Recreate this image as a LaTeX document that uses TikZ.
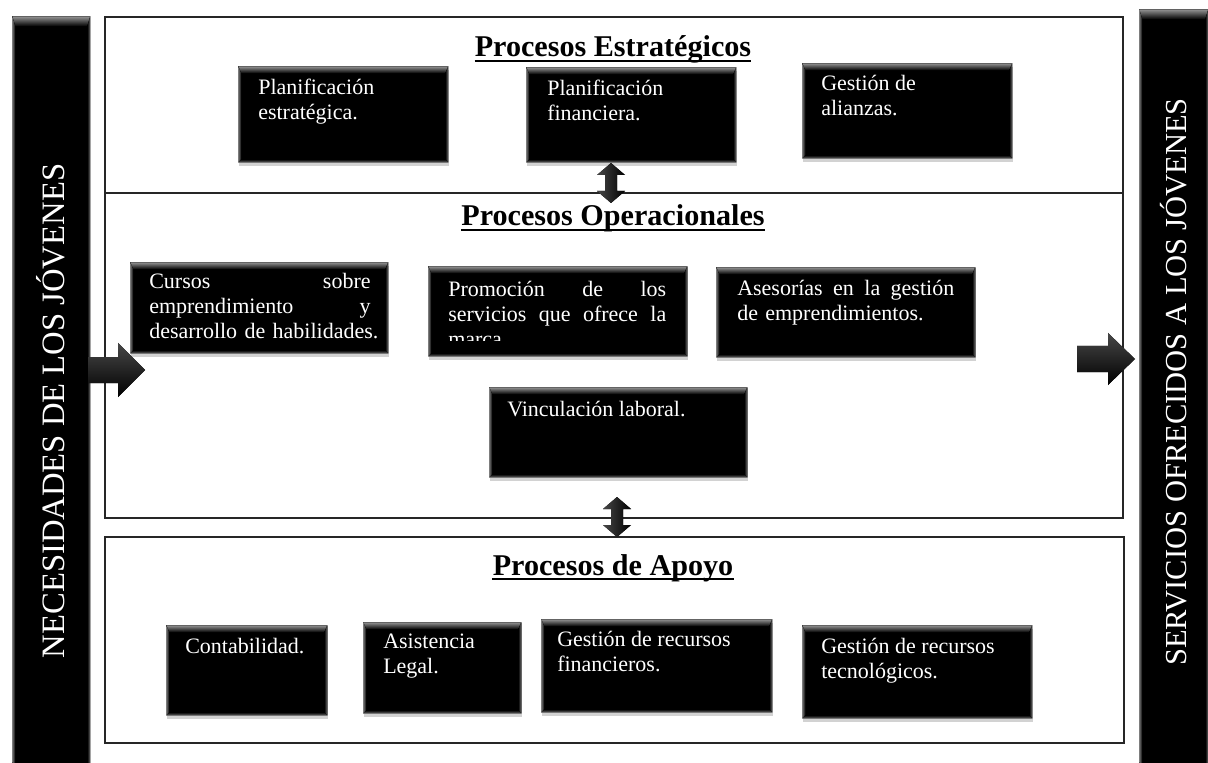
\documentclass[tikz,border=0pt]{standalone}
\usepackage{fontspec}
\setmainfont{Liberation Serif}
\usetikzlibrary{calc,shadows}

% bevelled edges of a black panel: #1 top depth, #2 side depth, #3 bottom depth (px)
\newcommand\bevelpaint[3]{%
  \path (path picture bounding box.north west) coordinate (bvA)
        (path picture bounding box.north east) coordinate (bvB)
        (path picture bounding box.south east) coordinate (bvC)
        (path picture bounding box.south west) coordinate (bvD);
  \path ([shift={(#2,#1)}]bvA) coordinate (bva)
        ([shift={(-#2,#1)}]bvB) coordinate (bvb)
        ([shift={(-#2,-#3)}]bvC) coordinate (bvc)
        ([shift={(#2,-#3)}]bvD) coordinate (bvd);
  \fill[top color=black!42, bottom color=black] (bvA) -- (bvB) -- (bvb) -- (bva) -- cycle;
  \fill[left color=black!55, right color=black] (bvA) -- (bva) -- (bvd) -- (bvD) -- cycle;
  \fill[left color=black, right color=black!55] (bvB) -- (bvb) -- (bvc) -- (bvC) -- cycle;
  \fill[top color=black, bottom color=black!60] (bvD) -- (bvd) -- (bvc) -- (bvC) -- cycle;
}

\tikzset{
  wh/.style 2 args={minimum width=#1*0.75pt, minimum height=#2*0.75pt},
  pbox/.style={rectangle, fill=black, inner sep=0pt, anchor=north west,
    drop shadow={shadow xshift=0.6pt, shadow yshift=-3pt, opacity=0.35},
    path picture={\bevelpaint{7}{3}{3}}},
  barbox/.style={rectangle, fill=black, inner sep=0pt, anchor=north west,
    path picture={\bevelpaint{10}{3}{0}}},
  region/.style={rectangle, draw=black!85, line width=1.2pt, inner sep=0pt, anchor=north west},
  % placed at the first baseline: a fixed strut sets the first line's height
  btext/.style={text=white, inner sep=0pt, anchor=north west, yshift=12.5pt, align=left,
    font=\fontsize{16.5}{18.75}\selectfont, execute at begin node={\rule{0pt}{12.5pt}}},
  ttl/.style={inner sep=0pt, anchor=base, font=\fontsize{22.6}{27}\selectfont\bfseries},
  uline/.style={line width=1.8pt},
  sidetext/.style={text=white, rotate=90, inner sep=0pt},
  hblock/.style={top color=black!72, bottom color=black, draw=none},
  vblock/.style={left color=black!72, right color=black, draw=none},
}

\begin{document}
\begin{tikzpicture}[x=0.75pt, y=-0.75pt]
\useasboundingbox (0,0) rectangle (1208,763);
\fill[white] (0,0) rectangle (1208,763);
\clip (0,0) rectangle (1208,763);

% input and output columns
\node[barbox, wh={78}{760}] (nec) at (12,16) {};
\node[sidetext, font=\fontsize{24.5}{28}\selectfont] (nect) at (51,411) {NECESIDADES DE LOS JÓVENES};
\node[barbox, wh={69}{770}] (ser) at (1139,9) {};
\node[sidetext, font=\fontsize{22.9}{26}\selectfont] (sert) at (1173.5,382) {SERVICIOS OFRECIDOS A LOS JÓVENES};

% process regions
\node[region, wh={1018}{176}] (est) at (104,16) {};
\node[region, wh={1018}{325}] (ope) at (104,192) {};
\node[region, wh={1019}{206}] (apo) at (104,536) {};

% region titles
\node[ttl] (t1) at (613,57) {Procesos Estratégicos};
\draw[uline] ([shift={(0,4)}]t1.base west) -- ([shift={(0,4)}]t1.base east);
\node[ttl] (t2) at (613,226) {Procesos Operacionales};
\draw[uline] ([shift={(0,4)}]t2.base west) -- ([shift={(0,4)}]t2.base east);
\node[ttl] (t3) at (613,575) {Procesos de Apoyo};
\draw[uline] ([shift={(0,4)}]t3.base west) -- ([shift={(0,4)}]t3.base east);

% strategic processes
\node[pbox, wh={210}{96}] (pe) at (238,66) {};
\node[btext] (pe-t) at ([shift={(20,29)}]pe.north west) {Planificación\\estratégica.};
\node[pbox, wh={210}{95}] (pf) at (526,67) {};
\node[btext] (pf-t) at ([shift={(21,29)}]pf.north west) {Planificación\\financiera.};
\node[pbox, wh={210}{95}] (ga) at (802,63) {};
\node[btext] (ga-t) at ([shift={(19,29)}]ga.north west) {Gestión de\\alianzas.};

% operational processes
\node[pbox, wh={258}{91}] (cu) at (130,262) {};
\node[btext, text width=166pt] (cu-t) at ([shift={(19,26)}]cu.north west)
  {Cursos\hfill sobre\\emprendimiento\hfill y\\\mbox{desarrollo de habilidades.}};
\node[pbox, wh={259}{90}] (pr) at (428,266) {};
\begin{scope}
  \clip (pr.north west) rectangle ([shift={(0,75)}]pr.north east);
  \node[btext, text width=163.5pt] (pr-t) at ([shift={(20,30)}]pr.north west)
    {Promoción\hfill de\hfill los\\servicios\hfill que\hfill ofrece\hfill la\\marca};
\end{scope}
\node[pbox, wh={259}{90}] (as) at (716,267) {};
\node[btext, text width=162.75pt] (as-t) at ([shift={(21,28)}]as.north west)
  {Asesorías\hfill en\hfill la\hfill gestión\\de emprendimientos.};
\node[pbox, wh={258}{90}] (vi) at (489,387) {};
\node[btext] (vi-t) at ([shift={(18,29)}]vi.north west) {Vinculación laboral.};

% support processes
\node[pbox, wh={161}{90}] (co) at (166,625) {};
\node[btext] (co-t) at ([shift={(19,28)}]co.north west) {Contabilidad.};
\node[pbox, wh={158}{91}] (al) at (363,622) {};
\node[btext] (al-t) at ([shift={(20,28)}]al.north west) {Asistencia\\Legal.};
\node[pbox, wh={231}{93}] (gf) at (541,619) {};
\node[btext] (gf-t) at ([shift={(16,29)}]gf.north west) {Gestión de recursos\\financieros.};
\node[pbox, wh={230}{93}] (gt) at (802,625) {};
\node[btext] (gt-t) at ([shift={(19,30)}]gt.north west) {Gestión de recursos\\tecnológicos.};

% flow arrows: needs in, services out
\coordinate (inA) at (88,370);
\fill[hblock] ([shift={(0,-13)}]inA) -- ++(30,0) -- ++(0,-14) -- ++(27,27)
  -- ++(-27,27) -- ++(0,-14) -- ++(-30,0) -- cycle;
\coordinate (outA) at (1077,359);
\fill[hblock] ([shift={(0,-13)}]outA) -- ++(31,0) -- ++(0,-13) -- ++(27,26)
  -- ++(-27,26) -- ++(0,-13) -- ++(-31,0) -- cycle;

% two-way links between the regions
\coordinate (linkA) at (611,183);
\fill[vblock] ([shift={(0,-20)}]linkA) -- ++(14,12) -- ++(-8,0) -- ++(0,16) -- ++(8,0)
  -- ++(-14,12) -- ++(-14,-12) -- ++(8,0) -- ++(0,-16) -- ++(-8,0) -- cycle;
\coordinate (linkB) at (617,517);
\fill[vblock] ([shift={(0,-20)}]linkB) -- ++(14,12) -- ++(-8,0) -- ++(0,16) -- ++(8,0)
  -- ++(-14,12) -- ++(-14,-12) -- ++(8,0) -- ++(0,-16) -- ++(-8,0) -- cycle;
\end{tikzpicture}
\end{document}
